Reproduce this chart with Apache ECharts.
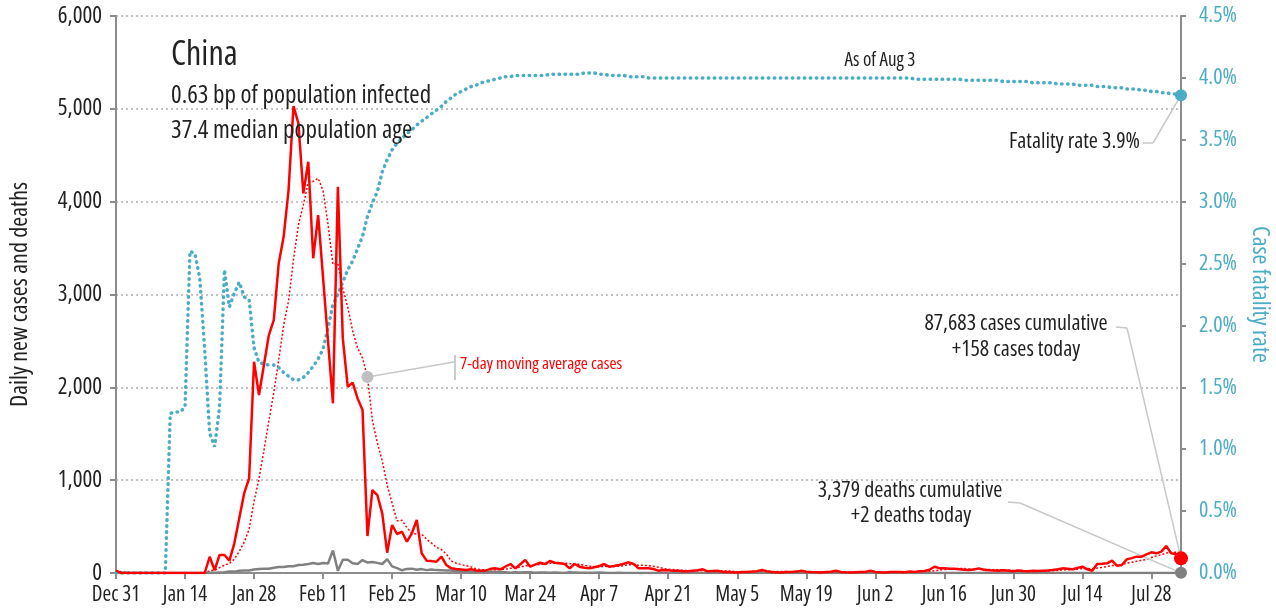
<!DOCTYPE html>
<html>
<head>
<meta charset="utf-8">
<script src="https://cdn.jsdelivr.net/npm/echarts@6/dist/echarts.min.js"></script>
<style>
  html, body { margin: 0; padding: 0; background: #fff; }
  #chart { width: 1276px; height: 615px; }
</style>
</head>
<body>
<div id="chart"></div>
<script>
// day 0 = Dec 31, last day = Aug 3
const cases = [
    27, 0, 0, 0, 0, 0, 0, 0, 0, 0,
    0, 0, 0, 0, 0, 0, 0, 0, 0, 175,
    30, 194, 194, 133, 320, 590, 860, 1020, 2276, 1917,
    2240, 2563, 2725, 3335, 3622, 4125, 5030, 4843, 4089, 4430,
    3390, 3856, 3180, 2500, 1828, 4160, 2527, 2007, 2050, 1881,
    1755, 398, 894, 840, 643, 219, 517, 420, 445, 337,
    428, 571, 212, 133, 128, 122, 176, 86, 50, 43,
    38, 32, 40, 28, 25, 28, 45, 50, 40, 70,
    97, 50, 95, 140, 68, 90, 111, 97, 129, 111,
    104, 97, 50, 97, 68, 57, 50, 62, 75, 97,
    68, 75, 86, 100, 115, 97, 50, 50, 50, 43,
    25, 32, 30, 25, 25, 20, 18, 25, 30, 40,
    18, 22, 25, 12, 10, 8, 6, 10, 12, 15,
    20, 32, 18, 12, 8, 6, 10, 12, 15, 25,
    14, 10, 8, 6, 10, 14, 25, 12, 8, 6,
    8, 10, 12, 25, 12, 8, 6, 10, 12, 10,
    8, 15, 12, 18, 22, 35, 68, 52, 50, 45,
    45, 40, 35, 32, 38, 50, 35, 30, 28, 25,
    30, 25, 20, 28, 22, 20, 25, 22, 25, 28,
    32, 40, 50, 45, 40, 55, 68, 40, 25, 97,
    100, 104, 133, 79, 86, 147, 160, 176, 176, 200,
    223, 212, 230, 291, 212, 205, 158
];

const deaths = [
    0, 0, 0, 0, 0, 0, 0, 0, 0, 0,
    0, 1, 0, 0, 0, 0, 1, 0, 0, 3,
    3, 6, 8, 16, 15, 24, 26, 26, 38, 43,
    46, 45, 57, 64, 65, 73, 73, 86, 89, 97,
    108, 97, 108, 103, 242, 25, 143, 142, 105, 98,
    139, 112, 118, 109, 97, 150, 71, 52, 29, 44,
    47, 35, 42, 31, 38, 31, 30, 28, 27, 22,
    17, 22, 11, 7, 13, 10, 14, 13, 11, 8,
    3, 7, 6, 9, 7, 4, 6, 5, 3, 5,
    4, 1, 7, 6, 3, 2, 2, 4, 5, 3,
    1, 1, 2, 1, 0, 1, 0, 0, 0, 0,
    0, 0, 0, 0, 0, 0, 0, 0, 0, 0,
    0, 0, 0, 0, 0, 0, 0, 0, 0, 0,
    0, 0, 0, 0, 0, 0, 0, 0, 0, 0,
    0, 0, 0, 0, 0, 0, 0, 0, 0, 0,
    0, 0, 0, 0, 0, 0, 0, 0, 0, 0,
    0, 0, 0, 0, 0, 0, 0, 0, 0, 0,
    0, 0, 0, 0, 0, 0, 0, 0, 0, 0,
    0, 0, 0, 0, 0, 0, 0, 0, 0, 0,
    0, 0, 0, 0, 0, 0, 0, 0, 0, 0,
    0, 0, 0, 0, 0, 0, 0, 0, 0, 0,
    0, 0, 0, 0, 0, 0, 2
];

// case fatality rate, percent
const fatalityRate = [
    0, 0, 0, 0, 0, 0, 0, 0, 0, 0,
    0, 1.29, 1.30, 1.30, 1.34, 2.60, 2.58, 2.38, 1.80, 1.13,
    1.02, 1.34, 2.45, 2.15, 2.26, 2.35, 2.23, 2.21, 1.82, 1.70,
    1.69, 1.68, 1.68, 1.66, 1.62, 1.59, 1.56, 1.56, 1.58, 1.62,
    1.67, 1.73, 1.81, 1.98, 2.17, 2.25, 2.35, 2.45, 2.52, 2.62,
    2.72, 2.88, 2.99, 3.08, 3.24, 3.34, 3.42, 3.47, 3.51, 3.55,
    3.58, 3.62, 3.65, 3.68, 3.71, 3.74, 3.77, 3.81, 3.84, 3.87,
    3.89, 3.91, 3.93, 3.94, 3.96, 3.97, 3.98, 3.99, 4.00, 4.01,
    4.01, 4.02, 4.02, 4.02, 4.02, 4.02, 4.02, 4.02, 4.03, 4.03,
    4.03, 4.03, 4.03, 4.03, 4.03, 4.04, 4.04, 4.04, 4.03, 4.03,
    4.02, 4.02, 4.02, 4.02, 4.01, 4.01, 4.01, 4.01, 4.00, 4.00,
    4.00, 4.00, 4.00, 4.00, 4.00, 4.00, 4.00, 4.00, 4.00, 4.00,
    4.00, 4.00, 4.00, 4.00, 4.00, 4.00, 4.00, 4.00, 4.00, 4.00,
    4.00, 4.00, 4.00, 4.00, 4.00, 4.00, 4.00, 4.00, 4.00, 4.00,
    4.00, 4.00, 4.00, 4.00, 4.00, 4.00, 4.00, 4.00, 4.00, 4.00,
    4.00, 4.00, 4.00, 4.00, 4.00, 4.00, 4.00, 4.00, 4.00, 4.00,
    4.00, 4.00, 3.99, 3.99, 3.99, 3.99, 3.99, 3.99, 3.99, 3.99,
    3.99, 3.99, 3.98, 3.98, 3.98, 3.98, 3.98, 3.98, 3.98, 3.98,
    3.97, 3.97, 3.97, 3.97, 3.97, 3.97, 3.96, 3.96, 3.96, 3.96,
    3.96, 3.95, 3.95, 3.95, 3.95, 3.94, 3.94, 3.94, 3.94, 3.93,
    3.93, 3.93, 3.92, 3.92, 3.92, 3.91, 3.91, 3.91, 3.90, 3.90,
    3.89, 3.89, 3.88, 3.88, 3.87, 3.87, 3.86
];

const MONTHS = ["Jan", "Feb", "Mar", "Apr", "May", "Jun", "Jul", "Aug", "Sep", "Oct", "Nov", "Dec"];
const days = cases.map((_, i) => {
    const d = new Date(2019, 11, 31 + i);
    return MONTHS[d.getMonth()] + " " + d.getDate();
});

const LAST = cases.length - 1;
const FAMILY = "'Open Sans', 'Roboto Condensed', sans-serif";
const RED = "#ff0000";
const GREY = "#808080";
const TEAL = "#4bacc6";
const INK = "#222222";
const AXIS = "#8c8c8c";
const LEADER = "#c8c8c8";

// condensed face of Open Sans, used by every label
function font(size, color) {
    return {
        fontFamily: FAMILY,
        fontStyle: "condensed",
        fontWeight: "normal",
        fontSize: size,
        color: color || INK,
    };
}

/* trailing 7-day average of daily cases */
function movingAverage(arr, n) {
    return arr.map((_, i) => {
        const part = arr.slice(Math.max(0, i - n + 1), i + 1);
        return part.reduce((a, b) => a + b, 0) / part.length;
    });
}
const casesAvg = movingAverage(cases, 7);

function text(str, x, y, size, align, color) {
    return {
        type: "text",
        x: x,
        y: y,
        z: 50,
        style: {
            text: str,
            fill: color || INK,
            font: "condensed " + size + "px " + FAMILY,
            align: align || "left",
            verticalAlign: "middle",
        },
    };
}

function leader(points) {
    return {
        symbol: ["none", "none"],
        silent: true,
        label: { show: false },
        lineStyle: { color: LEADER, width: 1.5, type: "solid" },
        data: points,
    };
}

function dot(coord, color, size) {
    return {
        silent: true,
        label: { show: false },
        data: [{ coord: coord, symbol: "circle", symbolSize: size, itemStyle: { color: color } }],
    };
}

function drawChart() {
    let myChart = echarts.init(document.querySelector("#chart"));
    const option = {
        animation: false,
        grid: { left: 116, right: 95, top: 16, bottom: 42, containLabel: false, outerBoundsMode: "none" },
        xAxis: {
            type: "category",
            data: days,
            boundaryGap: false,
            axisLine: { lineStyle: { color: AXIS, width: 2 } },
            axisTick: { interval: 13, length: 6, lineStyle: { color: AXIS, width: 2 } },
            axisLabel: Object.assign({ interval: 13, margin: 12 }, font(21)),
            splitLine: { show: false },
        },
        yAxis: [
            {
                type: "value",
                position: "left",
                min: 0,
                max: 6000,
                interval: 1000,
                name: "Daily new cases and deaths",
                nameLocation: "middle",
                nameGap: 84,
                nameTextStyle: font(24),
                axisLine: { show: true, lineStyle: { color: AXIS, width: 2 } },
                axisTick: { show: true, length: 6, lineStyle: { color: AXIS, width: 2 } },
                axisLabel: Object.assign(
                    { margin: 14, formatter: (v) => v.toLocaleString("en-US") },
                    font(23)
                ),
                splitLine: { lineStyle: { color: "#b0b0b0", width: 1.5, type: [2, 3] } },
            },
            {
                type: "value",
                position: "right",
                min: 0,
                max: 4.5,
                interval: 0.5,
                name: "Case fatality rate",
                nameLocation: "middle",
                nameRotate: -90,
                nameGap: 64,
                nameTextStyle: font(24, TEAL),
                axisLine: { show: true, lineStyle: { color: AXIS, width: 2 } },
                axisTick: { show: true, length: 5, lineStyle: { color: AXIS, width: 2 } },
                axisLabel: Object.assign(
                    { margin: 18, formatter: (v) => v.toFixed(1) + "%" },
                    font(22, TEAL)
                ),
                splitLine: { show: false },
            },
        ],
        series: [
            {
                name: "7-day moving average cases",
                type: "line",
                data: casesAvg,
                showSymbol: false,
                z: 3,
                lineStyle: { color: RED, width: 1.5, type: [2, 2] },
                markPoint: dot([51, casesAvg[51]], "#bfbfbf", 12),
                markLine: leader([[{ coord: [51, casesAvg[51]] }, { x: 454, y: 362 }]]),
            },
            {
                name: "Deaths",
                type: "line",
                data: deaths,
                showSymbol: false,
                z: 4,
                lineStyle: { color: GREY, width: 2.5 },
                markPoint: dot([LAST, deaths[LAST]], GREY, 12),
                markLine: leader([
                    [{ x: 1008, y: 502 }, { x: 1020, y: 503 }],
                    [{ x: 1020, y: 503 }, { coord: [LAST, deaths[LAST]] }],
                ]),
            },
            {
                name: "Fatality rate",
                type: "line",
                yAxisIndex: 1,
                data: fatalityRate,
                showSymbol: false,
                z: 5,
                lineStyle: { color: TEAL, width: 3.5, type: [0.5, 5.5], cap: "round" },
                markPoint: dot([LAST, fatalityRate[LAST]], TEAL, 12),
                markLine: leader([
                    [{ x: 1143, y: 143 }, { x: 1153, y: 143 }],
                    [{ x: 1153, y: 143 }, { coord: [LAST, fatalityRate[LAST]] }],
                ]),
            },
            {
                name: "Cases",
                type: "line",
                data: cases,
                showSymbol: false,
                z: 6,
                lineStyle: { color: RED, width: 2.5 },
                markPoint: dot([LAST, cases[LAST]], RED, 14),
                markLine: leader([
                    [{ x: 1116, y: 327 }, { x: 1127, y: 328 }],
                    [{ x: 1127, y: 328 }, { coord: [LAST, cases[LAST]] }],
                ]),
            },
        ],
        graphic: [
            text("China", 171, 55, 34),
            text("0.63 bp of population infected", 171, 96, 25),
            text("37.4 median population age", 171, 131, 25),
            text("As of Aug 3", 880, 61, 19, "center"),
            text("Fatality rate 3.9%", 1140, 142, 22, "right"),
            text("87,683 cases cumulative", 1016, 324, 22, "center"),
            text("+158 cases today", 1016, 350, 22, "center"),
            text("3,379 deaths cumulative", 910, 491, 22, "center"),
            text("+2 deaths today", 911, 516, 22, "center"),
            text("7-day moving average cases", 460, 364, 17, "left", RED),
            {
                type: "line",
                z: 50,
                shape: { x1: 455, y1: 355, x2: 455, y2: 380 },
                style: { stroke: "#bbbbbb", lineWidth: 1.5 },
            },
        ],
    };
    myChart.setOption(option);
    window.addEventListener("resize", function () {
        myChart.resize();
    });
}

drawChart();
</script>
</body>
</html>
